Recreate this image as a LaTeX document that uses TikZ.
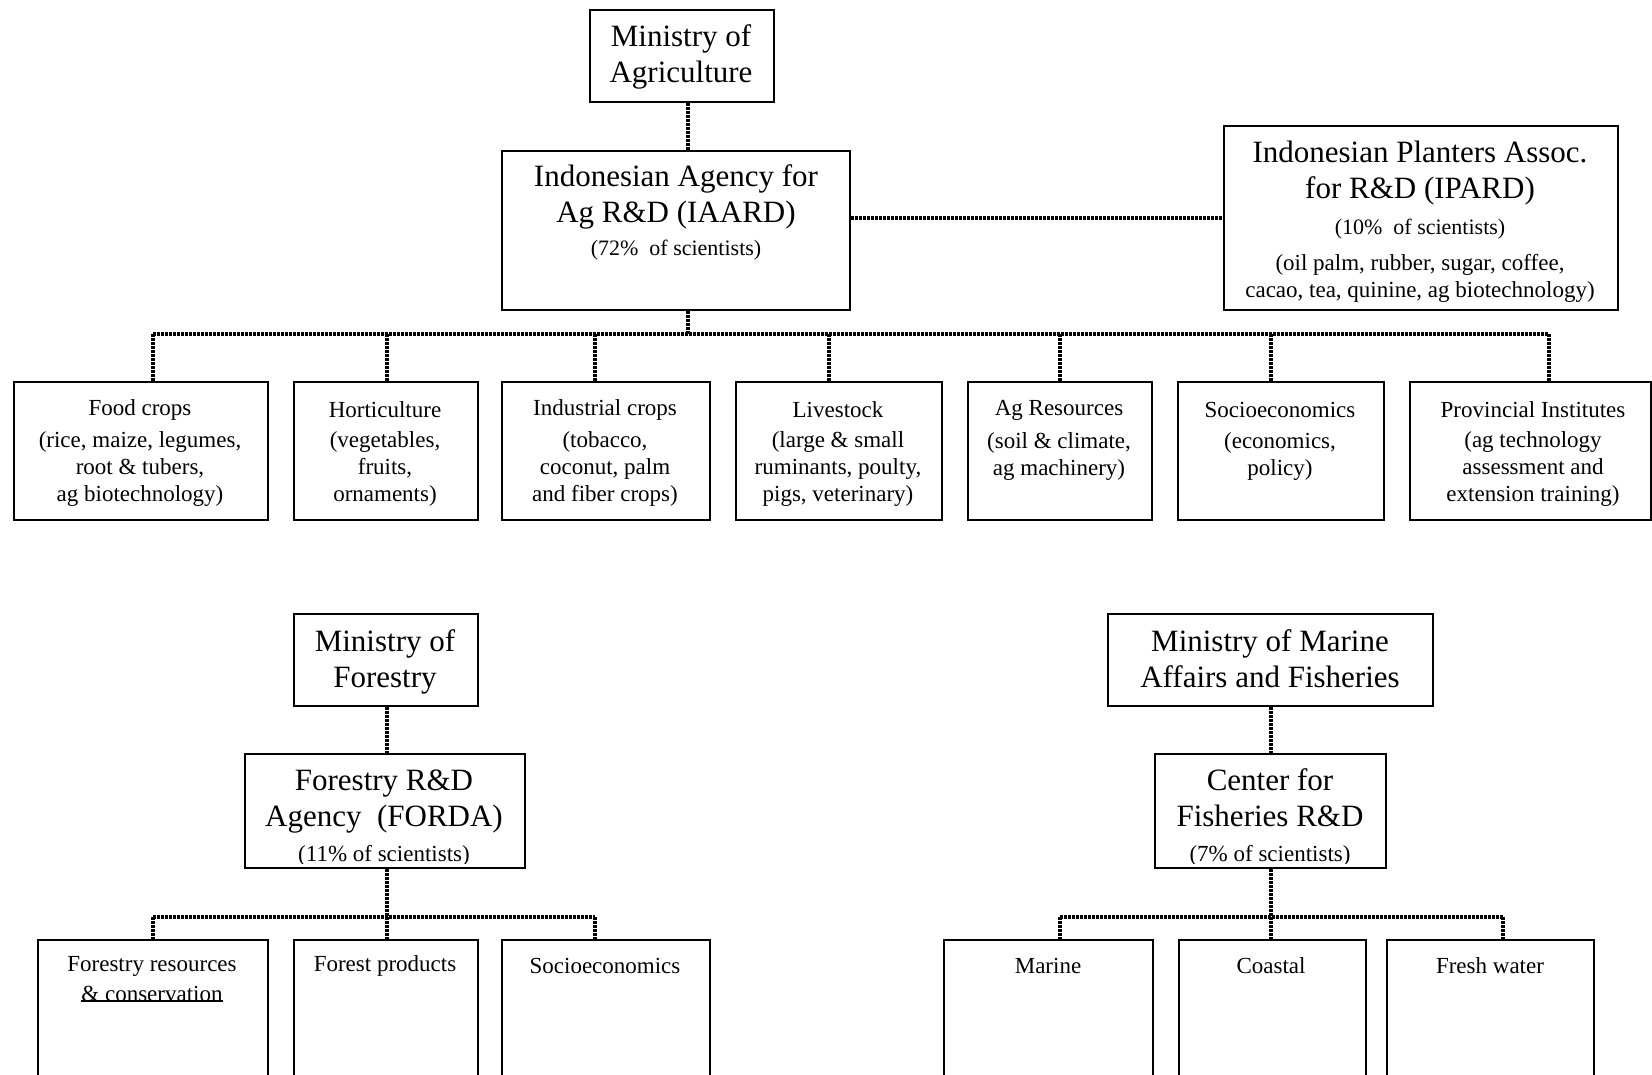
\documentclass[tikz,border=0pt]{standalone}
\usepackage{fontspec}
\setmainfont{Liberation Serif}
\newcommand\bigtxt{\fontsize{31}{36}\selectfont}
\newcommand\smtxt{\fontsize{23}{27}\selectfont}
\begin{document}
\begin{tikzpicture}[x=1pt,y=-1pt,
  box/.style={draw, line width=2pt, inner sep=0pt, anchor=north west, rectangle},
  bigt/.style={font=\bigtxt, align=center, inner sep=0pt},
  smt/.style={font=\smtxt, align=center, inner sep=0pt},
  conn/.style={line width=3.2pt, dash pattern=on 3pt off 1pt}]
\useasboundingbox (0,0) rectangle (1652,1074);
\clip (0,0) rectangle (1652,1074);

% ---- boxes: top section
\node[box, minimum width=184pt, minimum height=92pt] (moa) at (589,9) {};
\node[box, minimum width=348pt, minimum height=159pt] (iaard) at (501,150) {};
\node[box, minimum width=394pt, minimum height=184pt] (ipard) at (1223,125) {};
\node[box, minimum width=254pt, minimum height=138pt] (food) at (13,381) {};
\node[box, minimum width=184pt, minimum height=138pt] (hort) at (293,381) {};
\node[box, minimum width=208pt, minimum height=138pt] (ind) at (501,381) {};
\node[box, minimum width=206pt, minimum height=138pt] (live) at (735,381) {};
\node[box, minimum width=184pt, minimum height=138pt] (agr) at (967,381) {};
\node[box, minimum width=206pt, minimum height=138pt] (socio) at (1177,381) {};
\node[box, minimum width=241pt, minimum height=138pt] (prov) at (1409,381) {};

% ---- boxes: forestry
\node[box, minimum width=184pt, minimum height=92pt] (mof) at (293,613) {};
\node[box, minimum width=280pt, minimum height=114pt] (forda) at (244,753) {};
\node[box, minimum width=230pt, minimum height=200pt] (fres) at (37,939) {};
\node[box, minimum width=184pt, minimum height=200pt] (fprod) at (293,939) {};
\node[box, minimum width=208pt, minimum height=200pt] (fsoc) at (501,939) {};

% ---- boxes: fisheries
\node[box, minimum width=325pt, minimum height=92pt] (mmaf) at (1107,613) {};
\node[box, minimum width=231pt, minimum height=114pt] (cfrd) at (1154,753) {};
\node[box, minimum width=209pt, minimum height=200pt] (marine) at (943,939) {};
\node[box, minimum width=187pt, minimum height=200pt] (coastal) at (1178,939) {};
\node[box, minimum width=207pt, minimum height=200pt] (fresh) at (1386,939) {};

% ---- texts: top section
\node[bigt] (moat) at (681,57) {Ministry of\\Agriculture};
\node[bigt] (iaardt) at (676,197) {Indonesian Agency for\\Ag R\&D (IAARD)};
\node[smt, font=\fontsize{22}{26}\selectfont] (iaardp) at (676,250) {(72\%~ of scientists)};
\node[bigt] (ipardt) at (1420,173) {Indonesian Planters Assoc.\\for R\&D (IPARD)};
\node[smt, font=\fontsize{22}{26}\selectfont] (ipardp) at (1420,229) {(10\%~ of scientists)};
\node[smt] (ipardl) at (1420,278) {(oil palm, rubber, sugar, coffee,\\cacao, tea, quinine, ag biotechnology)};

\node[smt] (foodt) at (140,410) {Food crops};
\node[smt] (hortt) at (385,410) {Horticulture};
\node[smt] (indt) at (605,410) {Industrial crops};
\node[smt] (livet) at (838,410) {Livestock};
\node[smt] (agrt) at (1059,410) {Ag Resources};
\node[smt] (sociot) at (1280,410) {Socioeconomics};
\node[smt] (provt) at (1533,410) {Provincial Institutes};

\node[smt] (foodl) at (140,469) {(rice, maize, legumes,\\root \& tubers,\\ag biotechnology)};
\node[smt] (hortl) at (385,469) {(vegetables,\\fruits,\\ornaments)};
\node[smt] (indl) at (605,469) {(tobacco,\\coconut, palm\\and fiber crops)};
\node[smt] (livel) at (838,469) {(large \& small\\ruminants, poulty,\\pigs, veterinary)};
\node[smt] (agrl) at (1059,456) {(soil \& climate,\\ag machinery)};
\node[smt] (sociol) at (1280,456) {(economics,\\policy)};
\node[smt] (provl) at (1533,469) {(ag technology\\assessment and\\extension training)};

% ---- texts: forestry
\node[bigt] (moft) at (385,662) {Ministry of\\Forestry};
\node[bigt] (fordat) at (384,802) {Forestry R\&D\\Agency~ (FORDA)};
\begin{scope}
\clip (forda.north west) rectangle ([yshift=6pt]forda.south east);
\node[smt, anchor=base] (fordap) at (384,861) {(11\% of scientists)};
\end{scope}
\node[smt] (frest) at (152,966) {Forestry resources};
\node[smt, anchor=base] (fresc) at (152,1001) {\& conservation};
\draw[line width=2pt] (fresc.base west) -- (fresc.base east);
\node[smt] (fprodt) at (385,966) {Forest products};
\node[smt] (fsoct) at (605,966) {Socioeconomics};

% ---- texts: fisheries
\node[bigt] (mmaft) at (1270,659) {Ministry of Marine\\Affairs and Fisheries};
\node[bigt] (cfrdt) at (1270,798) {Center for\\Fisheries R\&D};
\begin{scope}
\clip (cfrd.north west) rectangle ([yshift=6pt]cfrd.south east);
\node[smt, anchor=base] (cfrdp) at (1270,861) {(7\% of scientists)};
\end{scope}
\node[smt] (marinet) at (1048,966) {Marine};
\node[smt] (coastalt) at (1271,966) {Coastal};
\node[smt] (fresht) at (1490,966) {Fresh water};

% ---- connectors: top section
\coordinate (b1) at (688,334);
\coordinate (ipline) at (0,218);
\coordinate (d1) at (153,334);
\coordinate (d2) at (387,334);
\coordinate (d3) at (595,334);
\coordinate (d4) at (829,334);
\coordinate (d5) at (1060,334);
\coordinate (d6) at (1271,334);
\coordinate (d7) at (1549,334);
\draw[conn] (moa.south -| b1) -- (iaard.north -| b1);
\draw[conn] (iaard.east |- ipline) -- (ipard.west |- ipline);
\draw[conn] (iaard.south -| b1) -- (b1);
\draw[conn] (d1) -- (d7);
\draw[conn] (d1) -- (food.north -| d1);
\draw[conn] (d2) -- (hort.north -| d2);
\draw[conn] (d3) -- (ind.north -| d3);
\draw[conn] (d4) -- (live.north -| d4);
\draw[conn] (d5) -- (agr.north -| d5);
\draw[conn] (d6) -- (socio.north -| d6);
\draw[conn] (d7) -- (prov.north -| d7);

% ---- connectors: forestry
\coordinate (fb) at (387,917);
\coordinate (fl) at (153,917);
\coordinate (fr) at (595,917);
\draw[conn] (mof.south -| fb) -- (forda.north -| fb);
\draw[conn] (forda.south -| fb) -- (fb);
\draw[conn] (fl) -- (fr);
\draw[conn] (fl) -- (fres.north -| fl);
\draw[conn] (fb) -- (fprod.north -| fb);
\draw[conn] (fr) -- (fsoc.north -| fr);

% ---- connectors: fisheries
\coordinate (mb) at (1271,917);
\coordinate (ml) at (1060,917);
\coordinate (mr) at (1503,917);
\draw[conn] (mmaf.south -| mb) -- (cfrd.north -| mb);
\draw[conn] (cfrd.south -| mb) -- (mb);
\draw[conn] (ml) -- (mr);
\draw[conn] (ml) -- (marine.north -| ml);
\draw[conn] (mb) -- (coastal.north -| mb);
\draw[conn] (mr) -- (fresh.north -| mr);
\end{tikzpicture}
\end{document}
